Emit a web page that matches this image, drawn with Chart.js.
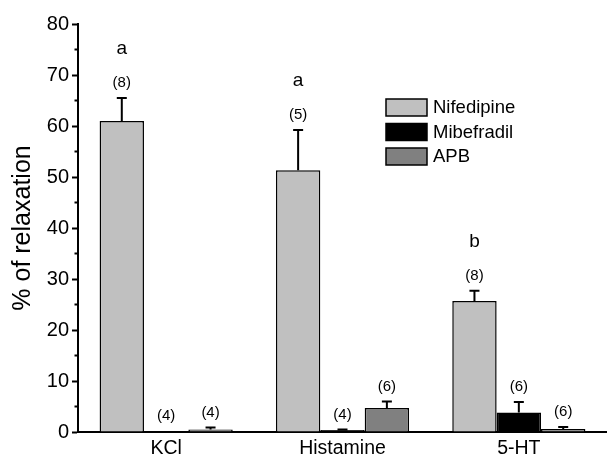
<!DOCTYPE html>
<html>
<head>
<meta charset="utf-8">
<script src="https://cdn.jsdelivr.net/npm/chart.js@4.4.0/dist/chart.umd.min.js"></script>
<style>
  html, body { margin: 0; padding: 0; background: #fff; }
  #wrap { width: 607px; height: 458px; position: relative; }
</style>
</head>
<body>
<div id="wrap"><canvas id="c"></canvas></div>
<script>
// ---- data ----
const categories = ['KCl', 'Histamine', '5-HT'];
const seriesNames = ['Nifedipine', 'Mibefradil', 'APB'];
const nifedipine = [61.0, 51.3, 25.7];
const nifedipineErr = [4.5, 7.9, 2.0];
const mibefradil = [0.2, 0.4, 3.8];
const mibefradilErr = [0.0, 0.1, 2.1];
const apb = [0.5, 4.7, 0.6];
const apbErr = [0.4, 1.3, 0.4];
const nifedipineN = ['(8)', '(5)', '(8)'];
const mibefradilN = ['(4)', '(4)', '(6)'];
const apbN = ['(4)', '(6)', '(6)'];
const sigLetters = ['a', 'a', 'b'];
const yTicks = [0, 10, 20, 30, 40, 50, 60, 70, 80];
const yMinorTicks = [5, 15, 25, 35, 45, 55, 65, 75];

const FONT = "'Liberation Sans', Arial, sans-serif";
const colors = ['#c0c0c0', '#000000', '#808080'];

const errs = [nifedipineErr, mibefradilErr, apbErr];
const nLabels = [nifedipineN, mibefradilN, apbN];

const errorPlugin = {
  id: 'errAndLabels',
  afterDatasetsDraw(chart) {
    const ctx = chart.ctx;
    const y = chart.scales.y;
    ctx.save();
    chart.data.datasets.forEach((ds, di) => {
      const meta = chart.getDatasetMeta(di);
      meta.data.forEach((bar, i) => {
        const v = ds.data[i];
        const e = errs[di][i];
        const yv = y.getPixelForValue(v);
        const yt = y.getPixelForValue(v + e);
        if (e > 0) {
          ctx.strokeStyle = '#000';
          ctx.lineWidth = 2;
          ctx.beginPath();
          ctx.moveTo(bar.x, yv);
          ctx.lineTo(bar.x, yt);
          ctx.moveTo(bar.x - 5, yt);
          ctx.lineTo(bar.x + 5, yt);
          ctx.stroke();
        }
        ctx.fillStyle = '#000';
        ctx.textAlign = 'center';
        ctx.textBaseline = 'middle';
        ctx.font = '15px ' + FONT;
        const ly = yt - 15;
        ctx.fillText(nLabels[di][i], bar.x, ly);
        if (di === 0) {
          ctx.font = '19px ' + FONT;
          ctx.fillText(sigLetters[i], bar.x, ly - 34);
        }
      });
    });
    // minor ticks on y axis
    ctx.strokeStyle = '#000';
    ctx.lineWidth = 2;
    const ax = chart.chartArea.left;
    yMinorTicks.forEach(t => {
      const py = y.getPixelForValue(t);
      ctx.beginPath();
      ctx.moveTo(ax - 3.5, py);
      ctx.lineTo(ax, py);
      ctx.stroke();
    });
    // legend
    ctx.font = '18.5px ' + FONT;
    ctx.textAlign = 'left';
    ctx.textBaseline = 'middle';
    chart.data.datasets.forEach((ds, di) => {
      const bx = 386, by = 99 + di * 24.5;
      ctx.fillStyle = ds.backgroundColor;
      ctx.strokeStyle = '#000';
      ctx.lineWidth = 1.5;
      ctx.beginPath();
      ctx.rect(bx, by, 41, 17);
      ctx.fill();
      ctx.stroke();
      ctx.fillStyle = '#000';
      ctx.fillText(ds.label, 433, by + 9);
    });
    ctx.restore();
  }
};

new Chart(document.getElementById('c'), {
  type: 'bar',
  data: {
    labels: categories,
    datasets: [
      { label: seriesNames[0], data: nifedipine, backgroundColor: colors[0] },
      { label: seriesNames[1], data: mibefradil, backgroundColor: colors[1] },
      { label: seriesNames[2], data: apb, backgroundColor: colors[2] }
    ]
  },
  options: {
    responsive: true,
    maintainAspectRatio: false,
    animation: false,
    events: [],
    layout: { padding: { top: 24, right: 0, left: 0, bottom: 0 } },
    datasets: {
      bar: {
        borderColor: '#000',
        borderWidth: 1.5,
        borderSkipped: 'bottom',
        categoryPercentage: 0.755,
        barPercentage: 1.0
      }
    },
    plugins: {
      legend: { display: false },
      tooltip: { enabled: false }
    },
    scales: {
      x: {
        offset: true,
        grid: { display: false, drawTicks: false },
        border: { display: true, color: '#000', width: 2 },
        ticks: { color: '#000', font: { family: FONT, size: 19.5 }, padding: 5 },
        afterFit(s) { s.height = 26; }
      },
      y: {
        min: 0, max: 80,
        afterBuildTicks(s) { s.ticks = yTicks.map(v => ({ value: v })); },
        grid: { drawOnChartArea: false, drawTicks: true, tickLength: 6, tickColor: '#000', tickWidth: 2 },
        border: { display: true, color: '#000', width: 2 },
        ticks: { color: '#000', font: { family: FONT, size: 20 }, padding: 3 },
        title: { display: true, text: '% of relaxation', color: '#000', font: { family: FONT, size: 25 }, padding: { top: 8, bottom: 0 } },
        afterFit(s) { s.width = 78; }
      }
    }
  },
  plugins: [errorPlugin]
});
</script>
</body>
</html>
